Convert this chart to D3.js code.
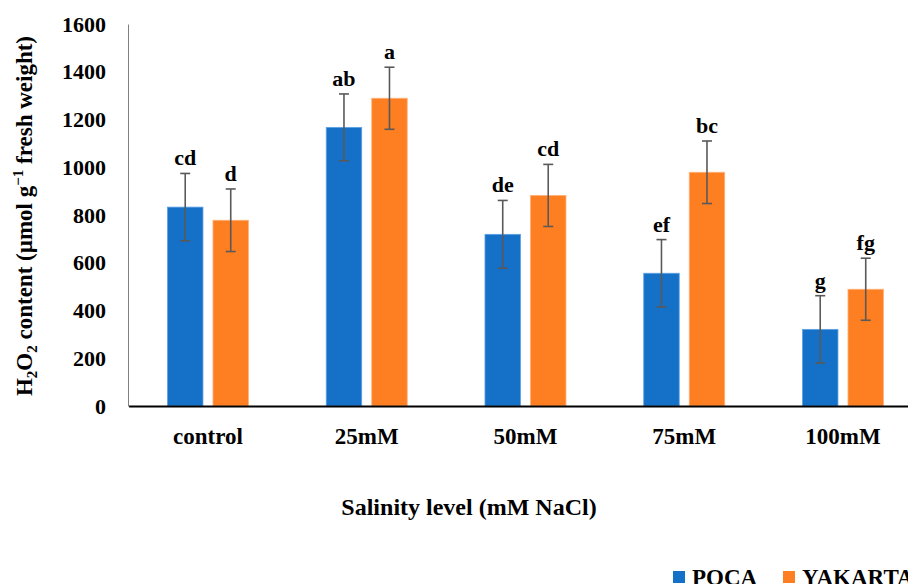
<!DOCTYPE html>
<html><head><meta charset="utf-8">
<script src="https://cdn.jsdelivr.net/npm/d3@7"></script>
<style>body{margin:0;background:#fff}svg{display:block}</style>
</head><body><svg id="c" width="908" height="584"></svg>
<script>
const categories = ["control","25mM","50mM","75mM","100mM"];
const seriesNames = ["POCA","YAKARTA"];
const poca = [833,1167,719,556,321];
const yakarta = [778,1289,882,979,489];
const pocaErr = [141,140,142,141,141];
const yakartaErr = [131,130,130,131,130];
const pocaLetters = ["cd","ab","de","ef","g"];
const yakartaLetters = ["d","a","cd","bc","fg"];
const yTicks = [0,200,400,600,800,1000,1200,1400,1600];
const colors = ["#1570C8","#FD7F22"];
const strokes = ["#5EA2E4","#FFB27A"];

(function(){
const FONT = "Liberation Serif, DejaVu Serif, serif";
const svg = d3.select("#c");
const plotLeft = 128.6, step = 158.75, plotTop = 24, plotBottom = 406;
const x = d3.scaleBand().domain(categories).range([plotLeft, plotLeft + step*categories.length]).paddingInner(0).paddingOuter(0);
const y = d3.scaleLinear().domain([0,1600]).range([plotBottom, plotTop]);
const inner = d3.scaleBand().domain(seriesNames).range([-40.5, 40.5]).paddingInner(0.22).paddingOuter(0);
function txt(sel){ return sel.attr("font-family", FONT).attr("font-weight","bold").attr("fill","#000"); }

const yAxis = svg.append("g").attr("transform", `translate(128,0)`)
  .call(d3.axisLeft(y).tickValues(yTicks).tickSize(0).tickPadding(22).tickFormat(d3.format("d")));
yAxis.attr("font-family", FONT).attr("font-size", 22).attr("font-weight","bold");
yAxis.select(".domain").attr("stroke","#7f7f7f").attr("stroke-width",1);
yAxis.selectAll("text").attr("fill","#000");

const data = categories.map((c,i)=>({c, vals:[
  {s:"POCA", v:poca[i], e:pocaErr[i], l:pocaLetters[i], k:0},
  {s:"YAKARTA", v:yakarta[i], e:yakartaErr[i], l:yakartaLetters[i], k:1}]}));

const g = svg.append("g");
data.forEach(d => {
  const cx = x(d.c) + x.bandwidth()/2;
  d.vals.forEach(b => {
    const bx = cx + inner(b.s);
    g.append("rect").attr("x", bx).attr("y", y(b.v)).attr("width", inner.bandwidth()).attr("height", plotBottom - y(b.v))
      .attr("fill", colors[b.k]).attr("stroke", strokes[b.k]).attr("stroke-width",0.8);
    const mx = bx + inner.bandwidth()/2;
    const t = y(b.v + b.e), btm = y(b.v - b.e);
    g.append("line").attr("x1",mx).attr("x2",mx).attr("y1",t).attr("y2",btm).attr("stroke","#595959").attr("stroke-width",1.6);
    [t,btm].forEach(yy => g.append("line").attr("x1",mx-5).attr("x2",mx+5).attr("y1",yy).attr("y2",yy).attr("stroke","#595959").attr("stroke-width",1.6));
    txt(g.append("text")).attr("x", mx).attr("y", t - 8).attr("text-anchor","middle").attr("font-size",22).text(b.l);
  });
});

const xAxis = svg.append("g").attr("transform", `translate(0,${plotBottom})`)
  .call(d3.axisBottom(x).tickSize(0).tickPadding(22));
xAxis.attr("font-family", FONT).attr("font-size", 23).attr("font-weight","bold");
xAxis.select(".domain").attr("stroke","#000").attr("stroke-width",2);
xAxis.selectAll("text").attr("fill","#000");

txt(svg.append("text")).attr("x",469).attr("y",515).attr("text-anchor","middle").attr("font-size",24).text("Salinity level (mM NaCl)");
const yl = txt(svg.append("text")).attr("transform","translate(32,216) rotate(-90)").attr("text-anchor","middle").attr("font-size",23);
yl.append("tspan").text("H");
yl.append("tspan").attr("dy",5).attr("font-size",15).text("2");
yl.append("tspan").attr("dy",-5).text("O");
yl.append("tspan").attr("dy",5).attr("font-size",15).text("2");
yl.append("tspan").attr("dy",-5).text(" content (µmol g");
yl.append("tspan").attr("dy",-9).attr("font-size",15).text("−1");
yl.append("tspan").attr("dy",9).text(" fresh weight)");

const lg = svg.append("g");
const lx = [673, 783];
seriesNames.forEach((s,i)=>{
  lg.append("rect").attr("x",lx[i]).attr("y",571).attr("width",12).attr("height",12).attr("fill",colors[i]);
  txt(lg.append("text")).attr("x",lx[i]+19).attr("y",585).attr("font-size",23).text(s);
});
})();
</script></body></html>
